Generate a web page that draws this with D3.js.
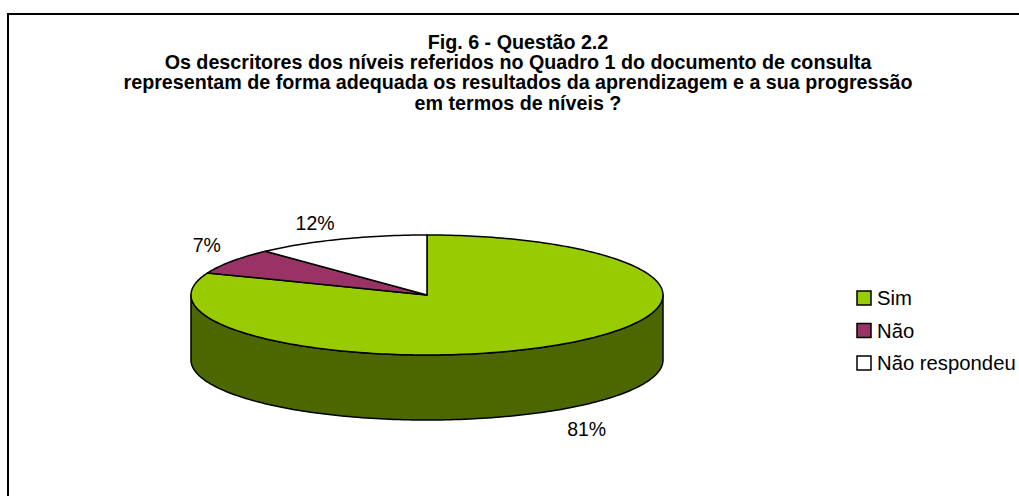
<!DOCTYPE html>
<html>
<head>
<meta charset="utf-8">
<script src="https://cdn.jsdelivr.net/npm/d3@7"></script>
<style>
  body { margin: 0; background: #fff; }
  text { font-family: "Liberation Sans", Arial, sans-serif; }
</style>
</head>
<body>
<div id="chart"></div>
<script>
// data
var categories = ["Sim", "Não", "Não respondeu"];
var values = [81, 7, 12];
var colors = ["#99CC00", "#993366", "#FFFFFF"];
var sideColors = ["#4C6600", "#4C1933", "#808080"];
var titleLines = [
  "Fig. 6 - Questão 2.2",
  "Os descritores dos níveis referidos no Quadro 1 do documento de consulta",
  "representam de forma adequada os resultados da aprendizagem e a sua progressão",
  "em termos de níveis ?"
];

var width = 1019, height = 496;
var cx = 427, cy = 295, rx = 236, ry = 60, depth = 65;

var svg = d3.select("#chart")
  .append("svg")
    .attr("width", width)
    .attr("height", height);

// frame
svg.append("rect")
  .attr("x", 8).attr("y", 14)
  .attr("width", 1040).attr("height", 520)
  .attr("fill", "none")
  .attr("stroke", "#000")
  .attr("stroke-width", 2);

// title
svg.append("g").selectAll("text")
  .data(titleLines)
  .enter()
  .append("text")
    .attr("x", 518)
    .attr("y", function (d, i) { return 49 + i * 20.2; })
    .attr("text-anchor", "middle")
    .style("font-weight", "bold")
    .style("font-size", "19.7px")
    .text(function (d) { return d; });

var pie = d3.pie().sort(null).value(function (d) { return d; });
var arcs = pie(values);

function px(a) { return cx + rx * Math.sin(a); }
function py(a) { return cy - ry * Math.cos(a); }

// points along the ellipse between two angles
function rim(a0, a1, dy) {
  var n = Math.max(2, Math.ceil(Math.abs(a1 - a0) / 0.02));
  var pts = [];
  for (var i = 0; i <= n; i++) {
    var a = a0 + (a1 - a0) * i / n;
    pts.push([px(a), py(a) + (dy || 0)]);
  }
  return pts;
}

var g = svg.append("g");

// side wall (front half of the ellipse, 90deg..270deg)
arcs.forEach(function (d, i) {
  var a0 = Math.max(d.startAngle, Math.PI / 2);
  var a1 = Math.min(d.endAngle, 3 * Math.PI / 2);
  if (a1 <= a0) return;
  var top = rim(a0, a1, 0);
  var bottom = rim(a1, a0, depth);
  g.append("path")
    .attr("d", "M" + top.concat(bottom).join("L") + "Z")
    .attr("fill", sideColors[i])
    .attr("stroke", "#000")
    .attr("stroke-width", 1.5)
    .attr("stroke-linejoin", "round");
});

// top faces
arcs.forEach(function (d, i) {
  var pts = [[cx, cy]].concat(rim(d.startAngle, d.endAngle, 0));
  g.append("path")
    .attr("d", "M" + pts.join("L") + "Z")
    .attr("fill", colors[i])
    .attr("stroke", "#000")
    .attr("stroke-width", 1.5)
    .attr("stroke-linejoin", "round");
});

// labels
arcs.forEach(function (d, i) {
  var a = (d.startAngle + d.endAngle) / 2;
  var s = Math.sin(a), c = Math.cos(a);
  var x = px(a) + (s >= 0 ? 27 : -25);
  var y = py(a) + (c >= 0 ? -16 : 19 + depth);
  svg.append("text")
    .attr("x", x)
    .attr("y", y)
    .attr("text-anchor", "middle")
    .attr("dominant-baseline", "central")
    .style("font-size", "19.5px")
    .text(d3.format(".0%")(d.data / 100));
});

// legend
var legend = svg.append("g").selectAll("g")
  .data(categories)
  .enter()
  .append("g")
    .attr("transform", function (d, i) { return "translate(857," + (291 + i * 32.5) + ")"; });

legend.append("rect")
  .attr("width", 14).attr("height", 14)
  .attr("fill", function (d, i) { return colors[i]; })
  .attr("stroke", "#000")
  .attr("stroke-width", 1.5);

legend.append("text")
  .attr("x", 20)
  .attr("y", 7)
  .attr("dominant-baseline", "central")
  .style("font-size", "20.3px")
  .text(function (d) { return d; });
</script>
</body>
</html>
